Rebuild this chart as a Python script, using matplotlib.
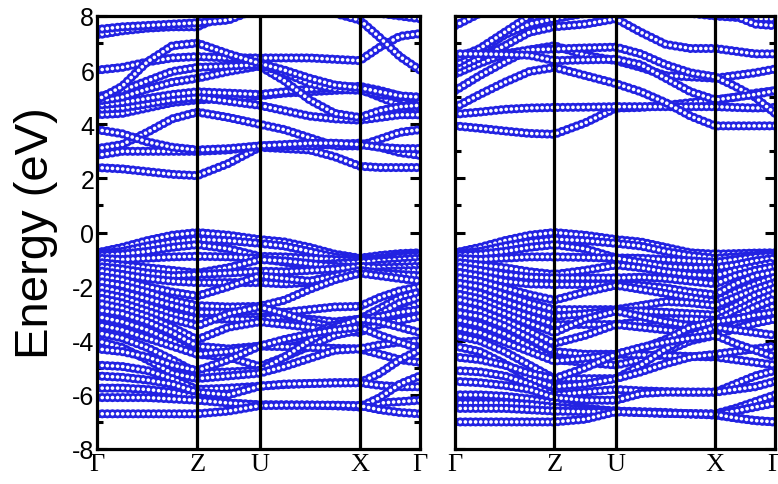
import numpy as np
import matplotlib
matplotlib.use('Agg')
from matplotlib import pyplot as plt

plt.rcParams['lines.scale_dashes'] = False

# k path (Gamma - Z - U - X - Gamma), sampled points along the path
k_path = [0.0, 0.25, 0.5, 0.75, 1.0, 1.31, 1.62, 1.87, 2.12, 2.37, 2.62, 2.82, 3.02, 3.22]
k_ticks = [0.0, 1.0, 1.62, 2.62, 3.22]
k_labels = ['Γ', 'Z', 'U', 'X', 'Γ']

# left panel, conduction bands (eV)
left_cond = [
    [2.40, 2.35, 2.25, 2.15, 2.10, 2.55, 3.15, 3.10, 3.05, 2.80, 2.45, 2.40, 2.40, 2.40],
    [2.85, 3.00, 3.00, 3.00, 3.00, 3.05, 3.20, 3.20, 3.20, 3.25, 3.30, 3.15, 2.95, 2.85],
    [3.10, 3.25, 3.70, 4.20, 4.45, 4.25, 4.00, 3.80, 3.50, 3.20, 3.20, 3.45, 3.70, 3.80],
    [3.80, 3.65, 3.35, 3.15, 3.05, 3.10, 3.20, 3.25, 3.30, 3.30, 3.25, 3.15, 3.10, 3.10],
    [4.35, 4.40, 4.60, 4.80, 4.90, 4.95, 5.05, 5.15, 5.20, 5.25, 5.30, 5.00, 4.70, 4.55],
    [4.55, 4.60, 4.75, 4.90, 5.00, 4.85, 4.70, 4.50, 4.30, 4.20, 4.15, 4.25, 4.35, 4.35],
    [4.70, 4.80, 4.95, 5.10, 5.20, 5.15, 5.10, 5.20, 5.30, 5.35, 5.40, 5.25, 5.05, 4.85],
    [4.85, 5.00, 5.30, 5.55, 5.70, 5.95, 6.15, 5.60, 4.90, 4.40, 4.25, 4.50, 4.65, 4.70],
    [5.00, 5.25, 5.60, 5.95, 6.10, 6.15, 6.20, 5.90, 5.50, 5.30, 5.25, 5.10, 5.00, 5.00],
    [6.00, 6.10, 6.30, 6.45, 6.50, 6.45, 6.45, 6.45, 6.45, 6.40, 6.35, 6.85, 7.25, 7.35],
    [4.90, 5.40, 6.30, 6.90, 7.00, 6.60, 6.25, 6.00, 5.70, 5.45, 5.35, 5.20, 5.05, 5.00],
    [7.30, 7.45, 7.55, 7.60, 7.60, 8.10, 8.60, 8.60, 8.40, 8.10, 7.85, 7.20, 6.50, 6.00],
    [7.50, 7.60, 7.65, 7.70, 7.75, 7.85, 8.30, 8.70, 8.70, 8.50, 8.30, 8.10, 8.00, 7.90],
]

# left panel, valence bands (eV)
left_val = [
    [-0.75, -0.55, -0.30, -0.10, 0.00, -0.10, -0.26, -0.35, -0.55, -0.80, -0.95, -0.85, -0.78, -0.75],
    [-0.80, -0.70, -0.50, -0.35, -0.25, -0.30, -0.40, -0.50, -0.70, -0.90, -1.00, -0.95, -0.85, -0.80],
    [-0.85, -0.80, -0.70, -0.55, -0.45, -0.60, -0.88, -0.90, -0.95, -1.00, -1.05, -1.00, -0.90, -0.85],
    [-0.95, -1.00, -0.95, -0.90, -0.88, -0.90, -0.95, -1.10, -1.20, -1.15, -1.10, -1.05, -1.00, -0.95],
    [-1.10, -1.20, -1.30, -1.40, -1.50, -1.30, -1.00, -1.05, -1.15, -1.25, -1.30, -1.20, -1.15, -1.10],
    [-1.25, -1.35, -1.50, -1.60, -1.55, -1.50, -1.43, -1.45, -1.40, -1.35, -1.25, -1.30, -1.28, -1.25],
    [-1.40, -1.55, -1.70, -1.80, -1.85, -1.85, -1.85, -1.90, -1.85, -1.70, -1.50, -1.45, -1.42, -1.40],
    [-1.60, -1.75, -2.00, -2.20, -2.35, -2.00, -1.60, -1.70, -1.80, -1.60, -1.40, -1.50, -1.55, -1.60],
    [-1.80, -1.95, -2.20, -2.50, -2.70, -2.75, -2.73, -2.50, -2.10, -1.75, -1.50, -1.60, -1.70, -1.80],
    [-2.00, -2.20, -2.45, -2.70, -2.95, -2.95, -2.90, -2.95, -2.85, -2.75, -2.73, -2.40, -2.15, -2.00],
    [-2.20, -2.40, -2.70, -3.00, -3.20, -3.20, -3.22, -3.10, -3.20, -3.30, -3.20, -2.80, -2.40, -2.20],
    [-2.40, -2.60, -2.90, -3.20, -3.45, -3.00, -2.75, -3.00, -3.30, -3.50, -3.50, -3.00, -2.60, -2.40],
    [-2.60, -2.80, -3.10, -3.50, -3.96, -3.50, -3.30, -3.40, -3.50, -3.60, -3.70, -3.30, -2.90, -2.60],
    [-2.85, -3.00, -3.30, -3.70, -4.20, -4.30, -4.20, -4.10, -3.80, -3.40, -3.20, -3.10, -2.95, -2.85],
    [-3.10, -3.30, -3.60, -4.00, -4.50, -4.60, -4.95, -4.60, -4.20, -3.80, -3.60, -3.40, -3.25, -3.10],
    [-3.40, -3.60, -3.90, -4.20, -4.50, -4.40, -4.20, -4.22, -4.25, -4.28, -4.30, -4.50, -4.70, -4.80],
    [-3.70, -3.90, -4.25, -4.70, -5.20, -5.15, -5.10, -4.60, -4.00, -3.50, -3.20, -3.30, -3.50, -3.70],
    [-4.00, -4.25, -4.70, -5.20, -5.40, -5.30, -5.20, -4.95, -4.65, -4.35, -4.30, -4.15, -4.05, -4.00],
    [-4.30, -4.40, -4.60, -4.90, -5.10, -4.70, -4.20, -3.95, -3.75, -3.60, -3.50, -3.80, -4.05, -4.30],
    [-4.90, -4.95, -5.10, -5.40, -5.80, -5.75, -5.68, -5.62, -5.58, -5.55, -5.55, -5.20, -4.70, -4.33],
    [-5.30, -5.35, -5.45, -5.60, -5.90, -6.00, -5.68, -5.60, -5.58, -5.56, -5.55, -5.65, -5.70, -5.70],
    [-5.75, -5.75, -5.80, -5.90, -6.10, -6.30, -6.37, -6.37, -6.38, -6.40, -6.40, -6.30, -6.25, -6.20],
    [-6.10, -6.10, -6.10, -6.15, -6.20, -6.30, -6.37, -6.38, -6.38, -6.40, -6.45, -6.10, -5.60, -5.30],
    [-6.70, -6.70, -6.70, -6.70, -6.70, -6.60, -6.40, -6.38, -6.38, -6.38, -6.40, -6.55, -6.65, -6.70],
]

# right panel, conduction bands (eV)
right_cond = [
    [3.94, 3.85, 3.75, 3.66, 3.63, 4.05, 4.60, 4.62, 4.70, 4.80, 4.90, 5.00, 5.15, 5.24],
    [4.37, 4.45, 4.55, 4.60, 4.62, 4.63, 4.65, 4.65, 4.65, 4.65, 4.65, 4.62, 4.60, 4.62],
    [4.62, 5.10, 5.55, 5.95, 6.10, 5.80, 5.50, 5.20, 4.80, 4.30, 3.94, 3.94, 3.94, 3.94],
    [5.24, 5.80, 6.30, 6.75, 6.90, 6.55, 6.35, 6.10, 5.80, 5.75, 5.70, 5.80, 5.90, 6.04],
    [5.85, 6.25, 6.60, 6.75, 6.78, 6.82, 6.85, 6.60, 6.20, 5.90, 5.75, 5.40, 5.00, 4.40],
    [6.04, 6.45, 6.90, 7.40, 7.60, 7.70, 7.90, 7.40, 6.95, 6.80, 6.80, 6.70, 6.60, 6.60],
    [6.20, 6.70, 7.30, 7.70, 7.90, 8.10, 8.30, 8.30, 8.20, 8.10, 8.00, 7.95, 7.90, 7.90],
    [6.41, 6.80, 7.40, 8.00, 8.40, 8.50, 8.60, 8.60, 8.50, 8.40, 8.30, 8.00, 7.70, 7.64],
    [6.60, 6.60, 6.58, 6.55, 6.35, 6.38, 6.40, 6.20, 5.70, 5.20, 4.90, 5.00, 5.10, 5.24],
    [7.64, 8.10, 8.60, 9.00, 9.00, 9.00, 9.00, 9.00, 9.00, 8.90, 8.80, 8.60, 8.40, 8.40],
]

# right panel, valence bands (eV)
right_val = [
    [-0.75, -0.55, -0.30, -0.10, 0.00, -0.10, -0.26, -0.35, -0.55, -0.75, -0.80, -0.78, -0.76, -0.75],
    [-0.80, -0.70, -0.50, -0.35, -0.25, -0.30, -0.40, -0.50, -0.70, -0.85, -0.95, -0.90, -0.85, -0.80],
    [-0.85, -0.80, -0.70, -0.55, -0.45, -0.60, -0.94, -0.95, -1.00, -1.05, -1.10, -1.00, -0.90, -0.85],
    [-0.95, -1.00, -0.95, -0.90, -0.90, -0.92, -0.95, -1.10, -1.25, -1.30, -1.30, -1.20, -1.05, -0.95],
    [-1.10, -1.20, -1.30, -1.45, -1.55, -1.40, -1.20, -1.30, -1.45, -1.55, -1.60, -1.40, -1.25, -1.10],
    [-1.25, -1.40, -1.55, -1.65, -1.68, -1.68, -1.68, -1.65, -1.70, -1.80, -1.90, -1.60, -1.40, -1.25],
    [-1.45, -1.60, -1.80, -1.90, -1.92, -1.92, -1.92, -1.95, -2.05, -2.20, -2.30, -1.90, -1.60, -1.45],
    [-1.65, -1.80, -2.05, -2.30, -2.50, -2.20, -1.95, -2.10, -2.25, -2.40, -2.55, -2.20, -1.90, -1.65],
    [-1.85, -2.00, -2.30, -2.60, -2.85, -2.85, -2.85, -2.70, -2.55, -2.60, -2.70, -2.40, -2.10, -1.85],
    [-2.05, -2.25, -2.55, -2.85, -3.10, -3.00, -2.90, -2.90, -2.95, -3.00, -3.05, -2.70, -2.30, -2.05],
    [-2.25, -2.45, -2.80, -3.10, -3.40, -3.40, -3.40, -3.30, -3.20, -3.20, -3.25, -2.90, -2.55, -2.25],
    [-2.45, -2.65, -3.00, -3.35, -3.70, -3.20, -2.90, -3.10, -3.30, -3.45, -3.50, -3.10, -2.75, -2.45],
    [-2.70, -2.90, -3.25, -3.65, -4.10, -3.80, -3.40, -3.50, -3.60, -3.70, -3.75, -3.40, -3.00, -2.70],
    [-2.95, -3.10, -3.45, -3.90, -4.40, -4.50, -4.50, -4.30, -3.95, -3.50, -3.30, -3.20, -3.05, -2.95],
    [-3.20, -3.40, -3.75, -4.20, -4.70, -4.80, -4.90, -4.70, -4.40, -4.00, -3.80, -3.55, -3.35, -3.20],
    [-3.50, -3.70, -4.05, -4.40, -4.75, -4.65, -4.50, -4.52, -4.55, -4.58, -4.60, -4.70, -4.80, -4.90],
    [-3.80, -4.00, -4.40, -4.90, -5.40, -5.40, -5.40, -4.90, -4.30, -3.80, -3.50, -3.60, -3.70, -3.80],
    [-4.20, -4.40, -4.85, -5.40, -5.70, -5.60, -5.40, -5.15, -4.85, -4.60, -4.50, -4.40, -4.30, -4.20],
    [-4.60, -4.70, -4.90, -5.20, -5.40, -5.00, -4.50, -4.25, -4.05, -3.90, -3.80, -4.10, -4.35, -4.60],
    [-5.10, -5.15, -5.30, -5.60, -6.00, -5.90, -5.80, -5.85, -5.88, -5.90, -5.90, -5.60, -5.30, -5.10],
    [-5.50, -5.55, -5.65, -5.80, -6.10, -6.20, -6.20, -5.95, -5.90, -5.90, -5.90, -5.80, -5.70, -5.50],
    [-6.00, -6.00, -6.05, -6.15, -6.30, -6.50, -6.60, -6.65, -6.68, -6.70, -6.70, -6.50, -6.25, -6.00],
    [-6.30, -6.30, -6.30, -6.35, -6.45, -6.55, -6.60, -6.62, -6.65, -6.70, -6.72, -6.60, -6.45, -6.30],
    [-6.50, -6.50, -6.50, -6.55, -6.60, -6.62, -6.62, -6.65, -6.68, -6.70, -6.75, -6.85, -6.95, -7.00],
    [-7.00, -7.00, -7.00, -7.00, -7.00, -6.90, -6.62, -6.65, -6.68, -6.70, -6.72, -6.85, -6.95, -7.00],
]

blue = '#2222e2'
dots = (0, (0.1, 3.6))


def draw_band(ax, energies):
    ax.plot(k_path, energies, color=blue, lw=6.6, ls=dots, dash_capstyle='round')
    ax.plot(k_path, energies, color='white', lw=2.6, ls=dots, dash_capstyle='round')


fig = plt.figure(figsize=(7.78, 4.85), dpi=100)
ax1 = fig.add_axes([97 / 778, 35 / 485, 323 / 778, 433 / 485])
ax2 = fig.add_axes([455 / 778, 35 / 485, 320 / 778, 433 / 485])

for ax, cond, val in [(ax1, left_cond, left_val), (ax2, right_cond, right_val)]:
    for band in val + cond:
        draw_band(ax, band)
    for kx in k_ticks[1:-1]:
        ax.axvline(kx, color='black', lw=2.3, zorder=5)
    ax.set_xlim(k_ticks[0], k_ticks[-1])
    ax.set_ylim(-8, 8)
    ax.set_xticks(k_ticks)
    ax.set_xticklabels(k_labels, family='Liberation Serif', fontsize=19)
    ax.tick_params(axis='x', length=0, pad=3)
    ax.set_yticks(np.arange(-8, 9, 2))
    ax.set_yticks(np.arange(-7, 8, 2), minor=True)
    ax.tick_params(axis='y', which='major', direction='in', length=7, width=2.2, left=True, right=True)
    ax.tick_params(axis='y', which='minor', direction='in', length=4, width=2.2, left=True, right=True)
    for sp in ax.spines.values():
        sp.set_linewidth(2.3)
        sp.set_zorder(6)

ax1.set_yticklabels(['-8', '-6', '-4', '-2', '0', '2', '4', '6', '8'], family='Liberation Sans', fontsize=18)
ax1.tick_params(axis='y', pad=2)
ax2.set_yticklabels([])
ax1.set_ylabel('Energy (eV)', family='Liberation Sans', fontsize=34, labelpad=10)

fig.savefig('out.png', dpi=100)
